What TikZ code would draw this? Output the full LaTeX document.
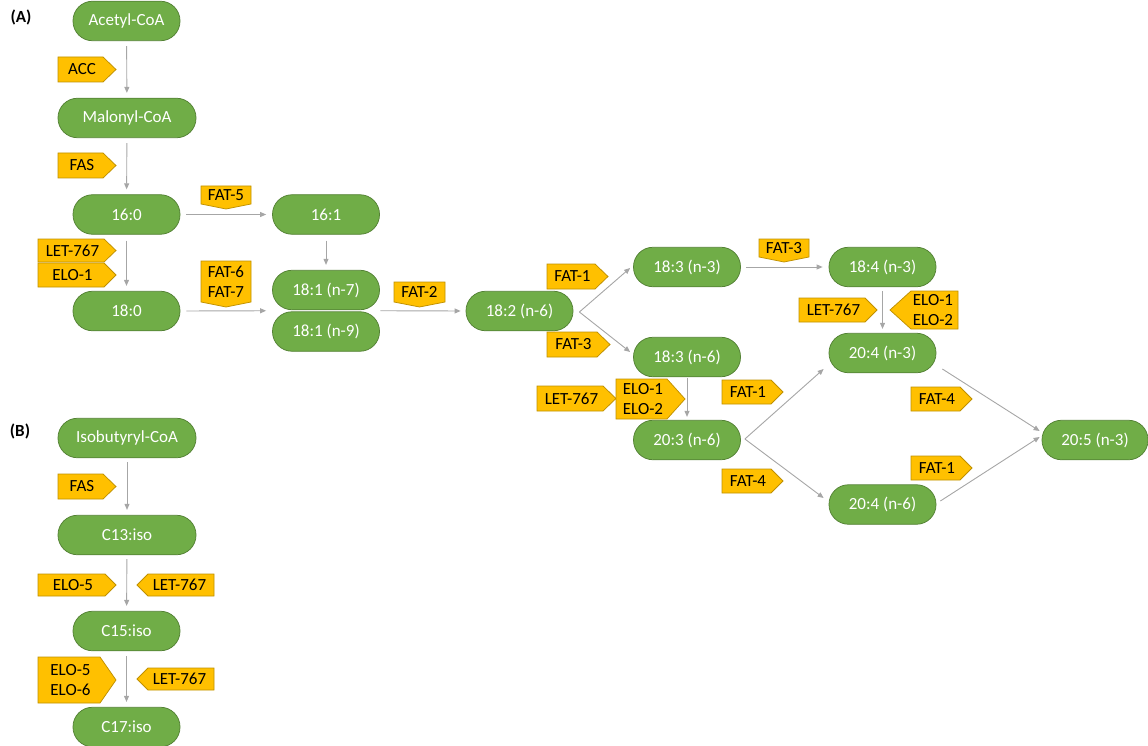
\documentclass[tikz,border=0pt]{standalone}
\usepackage{fontspec}
\setmainfont{Carlito}
\usetikzlibrary{arrows.meta,calc}
\definecolor{leaf}{RGB}{112,173,71}
\definecolor{leafedge}{RGB}{84,130,53}
\definecolor{amber}{RGB}{255,192,0}
\definecolor{amberedge}{RGB}{191,144,0}
\definecolor{flow}{RGB}{166,166,166}

% enzyme tags: right-, left- and down-pointing pentagons
% #1 name, #2 x1, #3 y1, #4 x2, #5 y2, #6 point depth, #7 text
\newcommand{\rtag}[7]{%
  \draw[tagbox] (#2,#3) -- ({#4-#6},#3) -- (#4,{(#3+#5)/2}) -- ({#4-#6},#5) -- (#2,#5) -- cycle;
  \node[tagtext] (#1) at ({(#2+#4-#6)/2+1.5},{(#3+#5)/2}) {#7};}
\newcommand{\ltag}[7]{%
  \draw[tagbox] (#4,#3) -- ({#2+#6},#3) -- (#2,{(#3+#5)/2}) -- ({#2+#6},#5) -- (#4,#5) -- cycle;
  \node[tagtext] (#1) at ({(#2+#6+#4)/2-1.5},{(#3+#5)/2}) {#7};}
\newcommand{\dtag}[7]{%
  \draw[tagbox] (#2,#3) -- (#4,#3) -- (#4,{#5-#6}) -- ({(#2+#4)/2},#5) -- (#2,{#5-#6}) -- cycle;
  \node[tagtext] (#1) at ({(#2+#4)/2},{(#3+#5-#6)/2}) {#7};}

\begin{document}
\begin{tikzpicture}[x=1pt,y=-1pt,
  acid/.style={draw=leafedge, line width=0.75pt, fill=leaf, rounded corners=19.5pt,
    minimum height=39.5pt, minimum width=107pt, text=white, inner sep=0pt,
    font=\fontsize{17}{20}\selectfont},
  wide/.style={minimum width=138pt},
  tagbox/.style={draw=amberedge, line width=0.75pt, fill=amber, line join=miter},
  tagtext/.style={font=\fontsize{17}{20}\selectfont, align=center, inner sep=0pt, text=black},
  flowarrow/.style={draw=flow, line width=0.9pt, -{Triangle[length=6pt,width=5pt]},
    shorten <=5pt, shorten >=5pt},
  panel/.style={font=\bfseries\fontsize{17}{20}\selectfont, inner sep=0pt}]

\useasboundingbox (0,0) rectangle (1148,746);

% panel labels
\node[panel] (labA) at (21,17) {(A)};
\node[panel] (labB) at (20,431) {(B)};

% (A) fatty acid pathway
\node[acid] (acetyl)  at (126.5,21)  {Acetyl-CoA};
\node[acid,wide] (malonyl) at (127,118) {Malonyl-CoA};
\node[acid] (c160)  at (126.5,214.5) {16:0};
\node[acid] (c161)  at (326,214.5)   {16:1};
\node[acid] (c180)  at (126.5,311)   {18:0};
\node[acid] (c181a) at (326,290)     {18:1 (n-7)};
\node[acid] (c181b) at (326,331.5)   {18:1 (n-9)};
\node[acid] (c182)  at (519.5,311)   {18:2 (n-6)};
\node[acid] (c183a) at (687,267)     {18:3 (n-3)};
\node[acid] (c183b) at (687,357)     {18:3 (n-6)};
\node[acid] (c203)  at (687,440)     {20:3 (n-6)};
\node[acid] (c184)  at (882.5,267)   {18:4 (n-3)};
\node[acid] (c204a) at (882.5,353)   {20:4 (n-3)};
\node[acid] (c204b) at (882.5,504.5) {20:4 (n-6)};
\node[acid,minimum width=106pt] (c205) at (1095,440) {20:5 (n-3)};

\coordinate (pairW) at ($(c181a.south west)!0.5!(c181b.north west)$);
\coordinate (pairE) at ($(c181a.south east)!0.5!(c181b.north east)$);

\draw[flowarrow] (acetyl) -- (malonyl);
\draw[flowarrow] (malonyl) -- (c160);
\draw[flowarrow, shorten <=6pt, shorten >=6pt] (c160) -- (c161);
\draw[flowarrow, shorten <=6pt] (c160) -- (c180);
\draw[flowarrow, shorten <=6pt] (c161) -- (c181a);
\draw[flowarrow, shorten <=6pt, shorten >=6pt] (c180.east) -- (pairW);
\draw[flowarrow, shorten <=0.5pt] (pairE) -- (c182.west);
\draw[flowarrow, shorten <=0pt, shorten >=0pt] ([shift={(6,1)}]c182.east) -- ([shift={(-3,1)}]c183a.west);
\draw[flowarrow, shorten <=0pt, shorten >=0pt] ([shift={(6,1)}]c182.east) -- ([shift={(-3,-5)}]c183b.west);
\draw[flowarrow, shorten >=6pt] (c183a) -- (c184);
\draw[flowarrow, shorten <=4pt, shorten >=4pt] (c184) -- (c204a);
\draw[flowarrow, shorten <=1pt, shorten >=3pt] (c183b) -- (c203);
\draw[flowarrow, shorten <=0pt, shorten >=0pt] ([shift={(4,-1)}]c203.east) -- ([shift={(-5,16)}]c204a.west);
\draw[flowarrow, shorten <=0pt, shorten >=0pt] ([shift={(4,-1)}]c203.east) -- ([shift={(-5,-6.5)}]c204b.west);
\draw[flowarrow, shorten <=0pt, shorten >=0pt] ([shift={(6,16)}]c204a.east) -- ([shift={(-2,-9)}]c205.west);
\draw[flowarrow, shorten <=0pt, shorten >=0pt] ([shift={(4,-3.5)}]c204b.east) -- ([shift={(-2,-3)}]c205.west);

% (A) enzymes
\rtag{tACC}{58}{57}{116}{82}{13}{ACC}
\rtag{tFAS}{58}{153}{116}{178}{13}{FAS}
\rtag{tLETa}{38}{239}{116}{262}{12}{LET-767}
\rtag{tELOa}{38}{263}{116}{287}{12}{ELO-1}
\dtag{tFATv}{201}{186}{251}{209}{5}{FAT-5}
\dtag{tFATvi}{201}{261}{251}{307}{5}{FAT-6\\FAT-7}
\dtag{tFATii}{394}{282}{445}{307}{5}{FAT-2}
\rtag{tFATia}{547}{264}{608}{289}{13}{FAT-1}
\rtag{tFATiiia}{547}{332}{610}{357}{13}{FAT-3}
\dtag{tFATiiib}{759}{239}{809}{262}{5}{FAT-3}
\rtag{tLETb}{799}{298}{877}{322}{12}{LET-767}
\ltag{tELOb}{890}{291}{958}{329}{21}{ELO-1\\ELO-2}
\rtag{tLETc}{537}{386}{616}{411}{13}{LET-767}
\rtag{tELOc}{616}{379}{685}{419}{18}{ELO-1\\ELO-2}
\rtag{tFATib}{722}{380}{783}{404}{12}{FAT-1}
\rtag{tFATiva}{722}{469}{783}{493}{12}{FAT-4}
\rtag{tFATivb}{911}{387}{972}{411}{12}{FAT-4}
\rtag{tFATic}{911}{456}{972}{480}{12}{FAT-1}

% (B) branched-chain pathway
\node[acid,wide] (iso) at (127,438) {Isobutyryl-CoA};
\node[acid,wide] (c13) at (127,535) {C13:iso};
\node[acid] (c15) at (126.5,631) {C15:iso};
\node[acid] (c17) at (126.5,727) {C17:iso};

\draw[flowarrow, shorten <=4pt] (iso) -- (c13);
\draw[flowarrow, shorten <=4pt] (c13) -- (c15);
\draw[flowarrow] (c15) -- (c17);

\rtag{tFASb}{58}{474}{116}{499}{13}{FAS}
\rtag{tELOv}{38}{574}{116}{596}{11}{ELO-5}
\ltag{tLETd}{137}{574}{214}{596}{11}{LET-767}
\rtag{tELOvi}{38}{657}{116}{703}{16}{ELO-5\\ELO-6}
\ltag{tLETe}{137}{668}{214}{690}{11}{LET-767}
\end{tikzpicture}
\end{document}
